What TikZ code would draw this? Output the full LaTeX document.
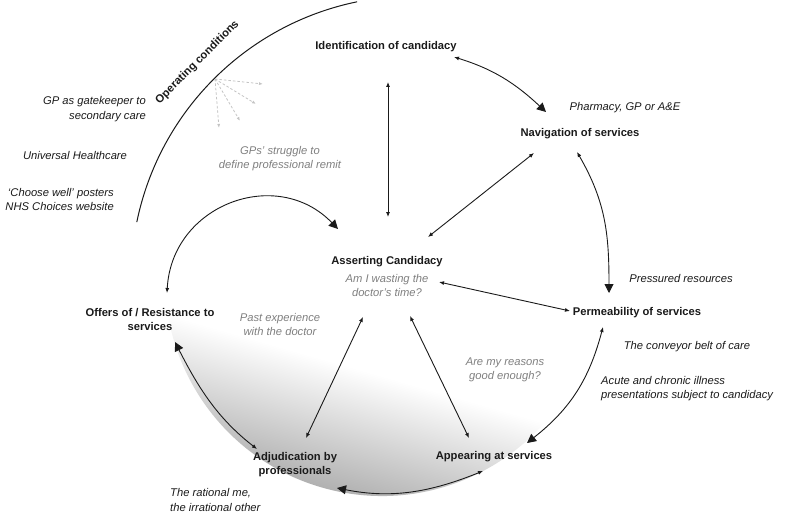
\documentclass[tikz,border=0pt]{standalone}
\usepackage{fontspec}
\setmainfont{Liberation Sans}
\usetikzlibrary{arrows.meta}
\definecolor{ink}{HTML}{1A1A1A}
\definecolor{soft}{HTML}{7F7F7F}
\definecolor{dashgrey}{HTML}{C4C4C4}
\definecolor{shadegrey}{HTML}{B0B0B0}
\begin{document}
\begin{tikzpicture}[x=1pt,y=1pt,
  lbl/.style={inner sep=0pt, text=ink, font=\fontsize{11.2}{14}\selectfont\bfseries, align=center},
  ctx/.style={inner sep=0pt, text=ink, font=\fontsize{11.2}{14.5}\selectfont\itshape},
  note/.style={inner sep=0pt, text=soft, font=\fontsize{11.2}{14}\selectfont\itshape, align=center},
  link/.style={draw=ink, line width=0.9pt},
  dbl/.style={link, arrows={Latex[length=5pt,width=4pt]-Latex[length=5pt,width=4pt]}},
  one/.style={link, arrows={Latex[length=5pt,width=4pt]-Triangle[length=9pt,width=9pt]}},
  ray/.style={draw=dashgrey, line width=0.8pt, dash pattern=on 2.5pt off 2pt, arrows={-Latex[length=4pt,width=3pt]}}
]
\path[use as bounding box] (0,0) rectangle (786,-516);

% shaded disc (white above, grey toward the lower left)
\begin{scope}[transform canvas={rotate around={-16:(382,-279)}}]
  \clip (382,-279) circle[radius=217];
  \shade[top color=white, bottom color=shadegrey] (150,-372) rectangle (614,-497);
\end{scope}

% operating conditions arc
\draw[draw=ink, line width=1pt] (414,-279) ++(168.4:283) arc[start angle=168.4, end angle=101.6, radius=283];
\node[lbl, rotate=45] (opcond) at (197.5,-62.5) {Operating conditions};

% grey dashed rays
\coordinate (ray0) at (215,-79);
\coordinate (ray1) at (263,-84);
\coordinate (ray2) at (256,-104);
\coordinate (ray3) at (240,-121);
\coordinate (ray4) at (219,-128);
\foreach \r in {ray1,ray2,ray3,ray4} \draw[ray] (ray0) -- (\r);

% main labels
\node[lbl] (ident) at (386,-47) {Identification of candidacy};
\node[lbl] (nav) at (580,-134) {Navigation of services};
\node[lbl] (assert) at (387,-262) {Asserting Candidacy};
\node[lbl] (perm) at (637,-313) {Permeability of services};
\node[lbl] (appear) at (494,-457) {Appearing at services};
\node[lbl] (adjud) at (295,-465) {Adjudication by\\professionals};
\node[lbl] (offers) at (150,-319.5) {Offers of / Resistance to\\services};

% context labels
\node[ctx] (pharm) at (625,-108) {Pharmacy, GP or A\&E};
\node[ctx] (press) at (681,-278) {Pressured resources};
\node[ctx] (conveyor) at (687,-347) {The conveyor belt of care};
\node[ctx, anchor=west, align=left] (acute) at (601,-388.5) {Acute and chronic illness\\presentations subject to candidacy};
\node[ctx, anchor=west, align=left] (rational) at (170,-500) {The rational me,\\the irrational other};
\node[ctx, anchor=east, align=right] (gate) at (146,-109) {GP as gatekeeper to\\secondary care};
\node[ctx] (universal) at (75,-155) {Universal Healthcare};
\node[ctx, anchor=east, align=right] (choose) at (114,-199.5) {‘Choose well’ posters\\NHS Choices website};

% grey notes
\node[note] (wasting) at (387,-285) {Am I wasting the\\doctor’s time?};
\node[note] (reasons) at (505,-370) {Are my reasons\\good enough?};
\node[note] (past) at (280,-324) {Past experience\\with the doctor};
\node[note] (gps) at (280,-158.5) {GPs’ struggle to\\define professional remit};

% connector ends
\coordinate (id-s) at (388,-82);
\coordinate (as-n) at (388,-217);
\coordinate (id-e) at (454,-57);
\coordinate (nv-nw) at (546,-112);
\coordinate (nv-sw) at (534,-153);
\coordinate (as-ne) at (428,-237);
\coordinate (nv-s) at (577,-152);
\coordinate (pm-n) at (609,-293);
\coordinate (as-e) at (439,-282);
\coordinate (pm-w) at (570,-311);
\coordinate (pm-s) at (603,-327);
\coordinate (ap-ne) at (527,-443);
\coordinate (as-se) at (410,-316);
\coordinate (ap-n) at (469,-438);
\coordinate (as-sw) at (363,-317);
\coordinate (ad-n) at (306,-438);
\coordinate (ap-s) at (483,-471);
\coordinate (ad-se) at (337,-488);
\coordinate (ad-nw) at (257,-449);
\coordinate (of-se) at (175,-342);
\coordinate (of-n) at (167,-293);
\coordinate (as-nw) at (338,-229);

% connectors
\draw[dbl] (id-s) -- (as-n);
\draw[one] (id-e) .. controls (493,-69) and (515,-83) .. (nv-nw);
\draw[dbl] (nv-sw) -- (as-ne);
\draw[one] (nv-s) .. controls (606,-202) and (609,-235) .. (pm-n);
\draw[dbl] (as-e) -- (pm-w);
\draw[one] (pm-s) .. controls (589,-380) and (570,-409) .. (ap-ne);
\draw[dbl] (as-se) -- (ap-n);
\draw[dbl] (as-sw) -- (ad-n);
\draw[one] (ap-s) .. controls (431,-492) and (392,-499) .. (ad-se);
\draw[one] (ad-nw) .. controls (217,-418) and (198,-387) .. (of-se);
\draw[one] (of-n) .. controls (171.6,-204.8) and (276.6,-165.5) .. (as-nw);
\end{tikzpicture}
\end{document}
